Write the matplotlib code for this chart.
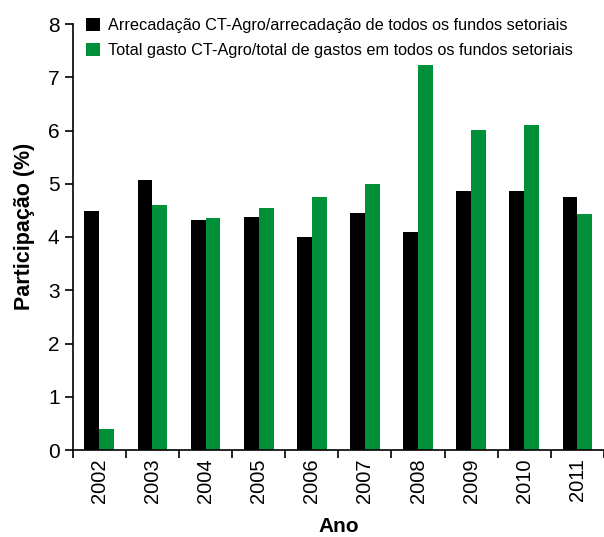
import numpy as np
import matplotlib.pyplot as plt

plt.rcParams['font.family'] = ['Liberation Sans', 'DejaVu Sans']

anos = ['2002', '2003', '2004', '2005', '2006', '2007', '2008', '2009', '2010', '2011']
arrecadacao = [4.49, 5.07, 4.32, 4.38, 4.00, 4.45, 4.09, 4.86, 4.86, 4.75]
gasto = [0.39, 4.60, 4.36, 4.54, 4.75, 5.00, 7.23, 6.01, 6.10, 4.43]

verde = '#00903a'

fig = plt.figure(figsize=(6.04, 5.37), dpi=100)
ax = fig.add_axes([72.7 / 604, 87 / 537, 1 - 72.7 / 604, 426 / 537])

x = np.arange(len(anos))
w = 0.28
ax.bar(x - w / 2, arrecadacao, w, color='black',
       label='Arrecadação CT-Agro/arrecadação de todos os fundos setoriais')
ax.bar(x + w / 2, gasto, w, color=verde,
       label='Total gasto CT-Agro/total de gastos em todos os fundos setoriais')

ax.set_xlim(-0.5, 9.36)
ax.set_ylim(0, 8)
ax.set_yticks(range(0, 9))
ax.set_xticks(x)
ax.set_xticklabels(anos, rotation=90, fontsize=14.5)
ax.set_xticks(np.arange(-0.5, 9.6, 1), minor=True)
ax.tick_params(axis='x', which='major', length=0, pad=6)
ax.tick_params(axis='x', which='minor', length=6, width=1.2, direction='out')
ax.tick_params(axis='y', labelsize=15, length=6, width=1.2, direction='out')

for s in ['top', 'right']:
    ax.spines[s].set_visible(False)
ax.spines['left'].set_linewidth(1.2)
ax.spines['bottom'].set_linewidth(1.2)

ax.set_ylabel('Participação (%)', fontsize=15.5, fontweight='bold')
ax.yaxis.set_label_coords(-0.071, 0.526)
ax.set_xlabel('Ano', fontsize=15, fontweight='bold', labelpad=10)

ax.legend(loc='upper left', bbox_to_anchor=(0.012, 1.03), frameon=False,
          fontsize=11.7, handlelength=0.9, handleheight=0.9, handletextpad=0.5,
          labelspacing=0.6, borderaxespad=0)

fig.savefig('out.png', dpi=100)
